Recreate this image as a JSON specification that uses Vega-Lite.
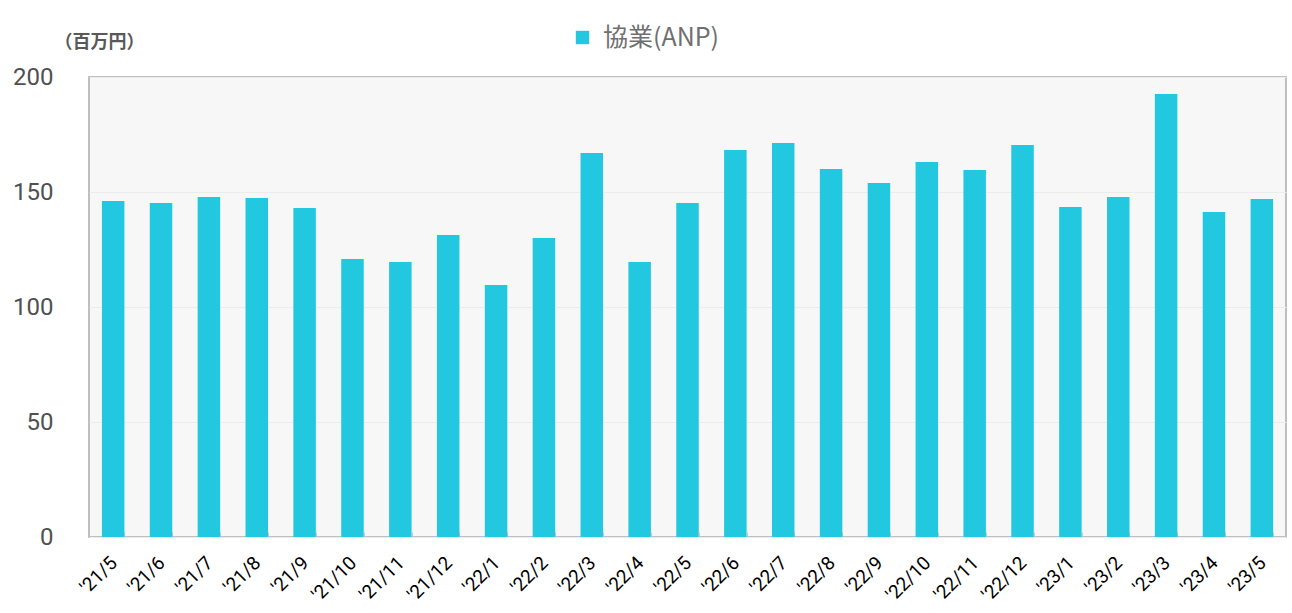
{
  "$schema": "https://vega.github.io/schema/vega-lite/v6.json",
  "width": 1197,
  "height": 460,
  "autosize": {"type": "none"},
  "padding": {"left": 89, "top": 77, "right": 6, "bottom": 76},
  "background": "#ffffff",
  "config": {
    "view": {"fill": "#f7f7f7", "stroke": "#bfbfbf", "strokeWidth": 2},
    "font": "Roboto"
  },
  "data": {
    "values": [
      {"month": "'21/5", "value": 146.1, "series": "協業(ANP)"},
      {"month": "'21/6", "value": 145.2, "series": "協業(ANP)"},
      {"month": "'21/7", "value": 147.8, "series": "協業(ANP)"},
      {"month": "'21/8", "value": 147.4, "series": "協業(ANP)"},
      {"month": "'21/9", "value": 143.0, "series": "協業(ANP)"},
      {"month": "'21/10", "value": 120.9, "series": "協業(ANP)"},
      {"month": "'21/11", "value": 119.6, "series": "協業(ANP)"},
      {"month": "'21/12", "value": 131.3, "series": "協業(ANP)"},
      {"month": "'22/1", "value": 109.6, "series": "協業(ANP)"},
      {"month": "'22/2", "value": 130.0, "series": "協業(ANP)"},
      {"month": "'22/3", "value": 167.0, "series": "協業(ANP)"},
      {"month": "'22/4", "value": 119.6, "series": "協業(ANP)"},
      {"month": "'22/5", "value": 145.2, "series": "協業(ANP)"},
      {"month": "'22/6", "value": 168.3, "series": "協業(ANP)"},
      {"month": "'22/7", "value": 171.3, "series": "協業(ANP)"},
      {"month": "'22/8", "value": 160.0, "series": "協業(ANP)"},
      {"month": "'22/9", "value": 153.9, "series": "協業(ANP)"},
      {"month": "'22/10", "value": 163.0, "series": "協業(ANP)"},
      {"month": "'22/11", "value": 159.6, "series": "協業(ANP)"},
      {"month": "'22/12", "value": 170.4, "series": "協業(ANP)"},
      {"month": "'23/1", "value": 143.5, "series": "協業(ANP)"},
      {"month": "'23/2", "value": 147.8, "series": "協業(ANP)"},
      {"month": "'23/3", "value": 192.6, "series": "協業(ANP)"},
      {"month": "'23/4", "value": 141.3, "series": "協業(ANP)"},
      {"month": "'23/5", "value": 147.0, "series": "協業(ANP)"}
    ]
  },
  "mark": {"type": "bar"},
  "encoding": {
    "x": {
      "field": "month",
      "type": "ordinal",
      "sort": null,
      "scale": {"paddingInner": 0.53, "paddingOuter": 0.27},
      "axis": {
        "title": null,
        "domain": false,
        "labelAngle": -45,
        "labelFont": "Roboto",
        "labelFontSize": 19,
        "labelColor": "#000000",
        "labelPadding": 21,
        "labelOffset": -6,
        "ticks": true,
        "tickBand": "extent",
        "tickSize": -5,
        "tickColor": "#c8c8c8",
        "grid": false
      }
    },
    "y": {
      "field": "value",
      "type": "quantitative",
      "scale": {"domain": [0, 200]},
      "axis": {
        "title": "（百万円）",
        "titleAngle": 0,
        "titleAlign": "left",
        "titleBaseline": "middle",
        "titleX": -35,
        "titleY": -35,
        "titleFont": "Noto Sans CJK JP",
        "titleFontSize": 18,
        "titleFontWeight": "bold",
        "titleColor": "#595959",
        "values": [0, 50, 100, 150, 200],
        "domain": false,
        "ticks": false,
        "labelPadding": 36,
        "labelFont": "Roboto",
        "labelFontSize": 24,
        "labelColor": "#505050",
        "gridColor": "#ececec",
        "gridWidth": 1
      }
    },
    "color": {
      "field": "series",
      "type": "nominal",
      "scale": {"range": ["#22c8e0"]},
      "legend": {
        "title": null,
        "orient": "none",
        "legendX": 481,
        "legendY": -52,
        "symbolType": "square",
        "symbolSize": 180,
        "symbolStrokeWidth": 0,
        "labelFont": "Noto Sans CJK JP",
        "labelFontSize": 25,
        "labelColor": "#6f6f6f",
        "labelOffset": 8
      }
    }
  }
}
